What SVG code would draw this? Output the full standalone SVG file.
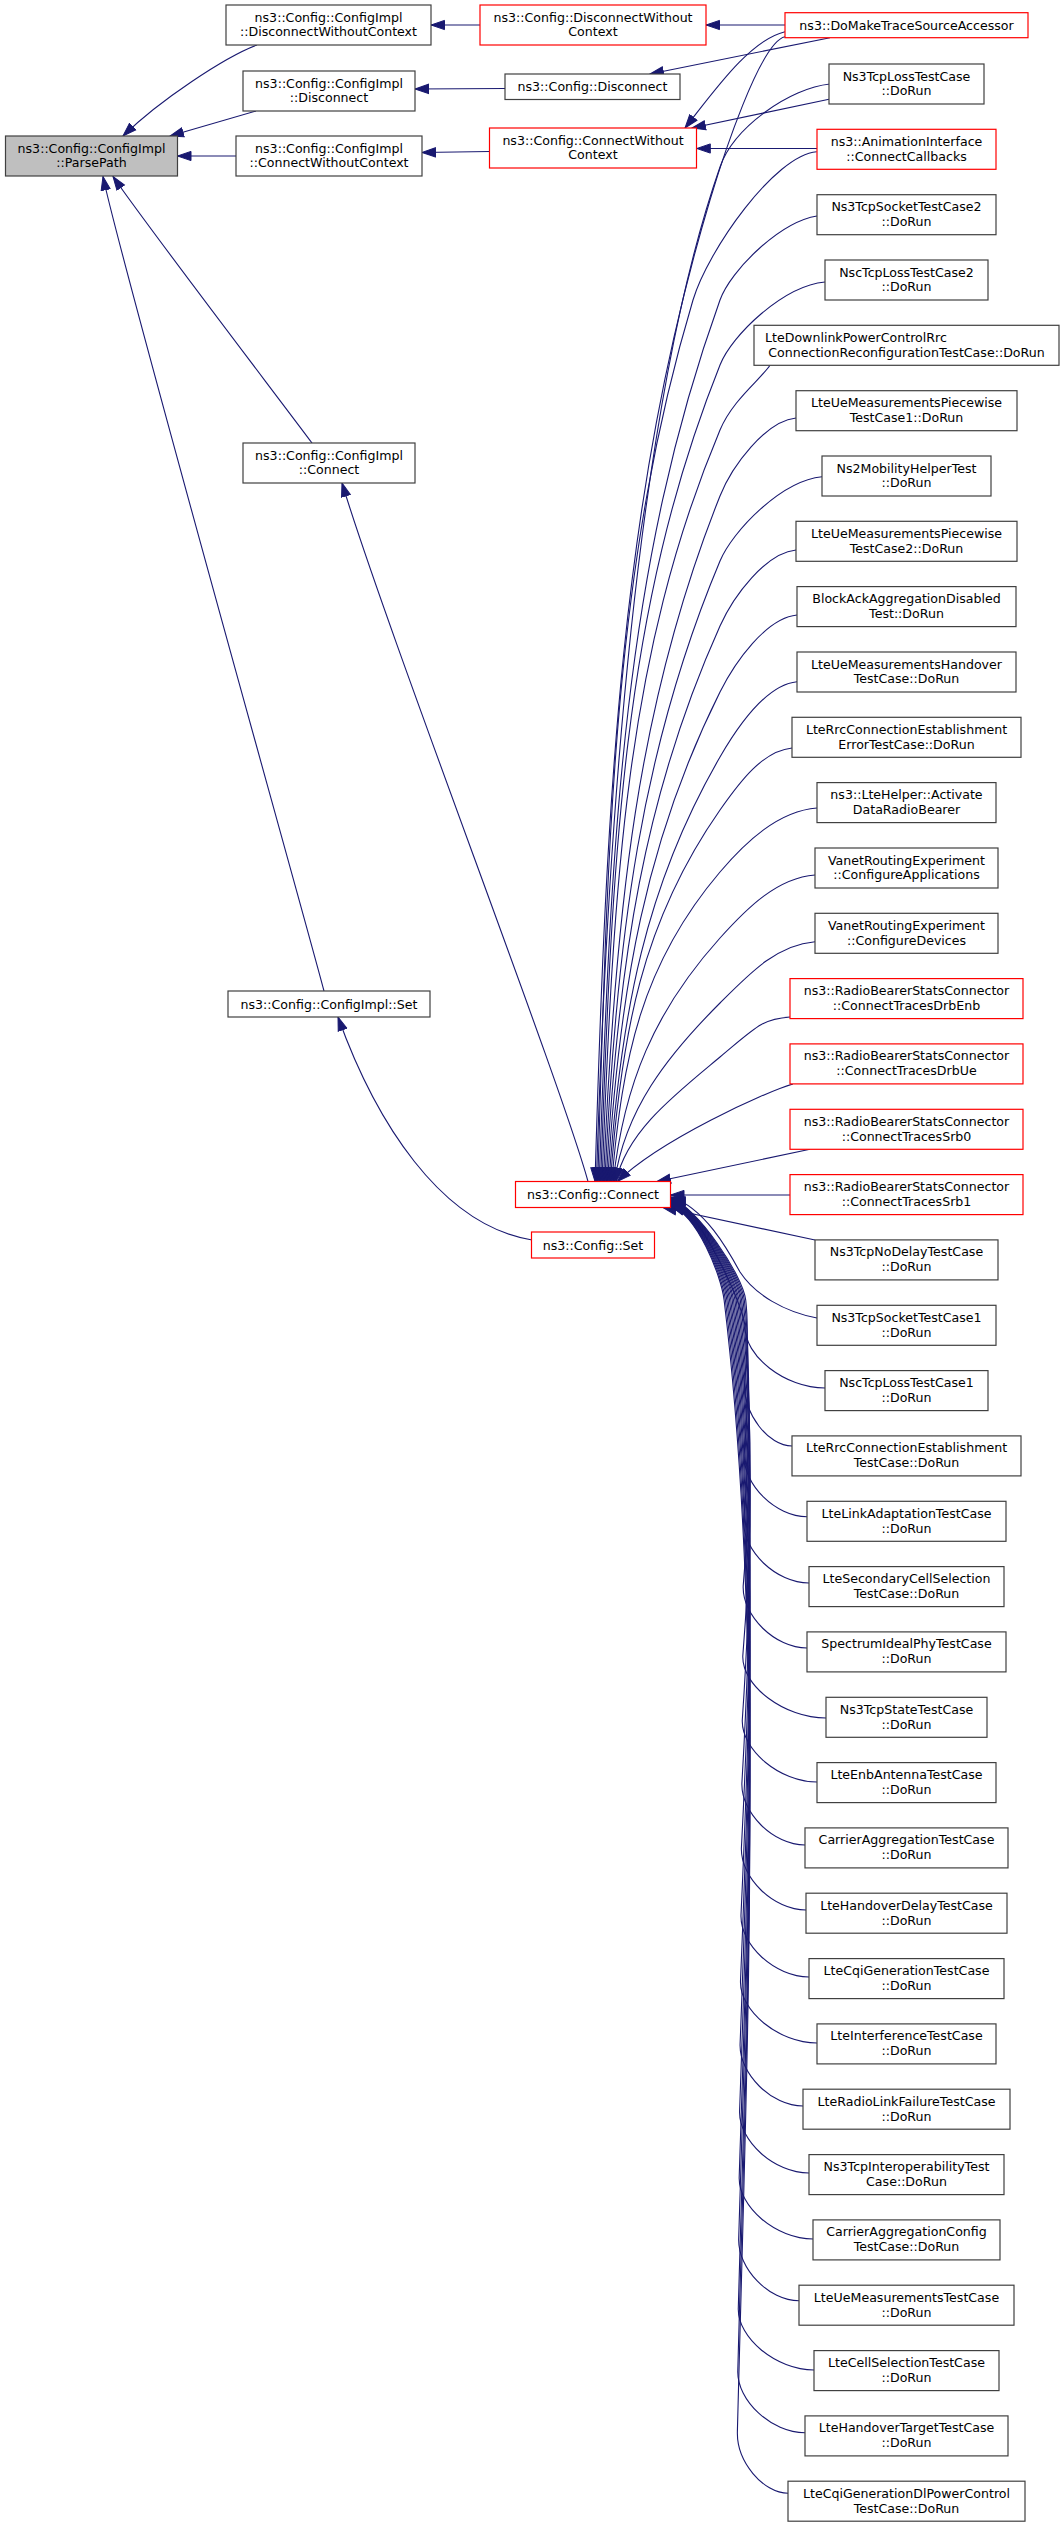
<svg xmlns="http://www.w3.org/2000/svg" width="1064" height="2527" viewBox="0 0 1064 2527">
<style>
.n rect{fill:#ffffff;stroke:#404040;stroke-width:1.2}
.n.r rect{stroke:#ff0000}
.n.g rect{fill:#bfbfbf}
text{font-family:"DejaVu Sans","Liberation Sans",sans-serif;font-size:12.6px;fill:#000000;text-anchor:middle}
#edges path{fill:none;stroke:#191970;stroke-width:1.1;marker-end:url(#ah)}
</style>
<defs>
<marker id="ah" markerUnits="userSpaceOnUse" markerWidth="16" markerHeight="12" viewBox="-14 -6 16 12" refX="0" refY="0" orient="auto">
<path d="M-13.5,-4.6 L0,0 L-13.5,4.6 Z" fill="#191970" stroke="#191970" stroke-width="1"/>
</marker>
</defs>
<rect x="0" y="0" width="1064" height="2527" fill="#ffffff"/>
<g id="edges">
<path d="M257,45 C225,57 160,100 123,136"/>
<path d="M256,111 L170,136"/>
<path d="M236,156 L177.5,156"/>
<path d="M312,443 C280,400 150,230 113,176.5"/>
<path d="M324,991 C300,900 120,260 103,176.5"/>
<path d="M480,25 L431,25"/>
<path d="M505,88.5 L415,89"/>
<path d="M489.5,151.5 L422,152.5"/>
<path d="M588,1181.5 C560,1080 390,640 342,483"/>
<path d="M532,1240 C440,1225 375,1120 338,1017"/>
<path d="M785,25 L706,25"/>
<path d="M830,37.7 L650,74"/>
<path d="M785,31.7 C750,40 715,90 685,128"/>
<path d="M829,99.3 L692,128"/>
<path d="M817,148.5 L696.8,148.5"/>
<path d="M785,36.7 C760,42 722,160 710,200 C621.7,494.5 606.5,788.9 595,1181.5"/>
<path d="M830,84 C790,88 734,127 720,167 C642,390 608.9,775.7 596.4,1181.5"/>
<path d="M816.7,151.7 C775,155 708,250 693,300 C613.7,564.5 608,828.9 597.8,1181.5"/>
<path d="M817,216 C780,222 730.8,270 720,300 C624.8,564.5 611.3,828.9 599.2,1181.5"/>
<path d="M825,282 C783,286 732,335 720,365 C622,610 612.5,854.9 600.6,1181.5"/>
<path d="M770,365.3 C760,380 732.6,400 720,430 C625.3,655.5 613.8,880.9 602,1181.5"/>
<path d="M796,418 C765.6,421 732,466 720,496 C637.7,701.7 615.2,907.3 603.4,1181.5"/>
<path d="M822,476.7 C781.2,480.7 732.6,531 720,561 C641.8,747.2 616.5,933.3 604.8,1181.5"/>
<path d="M796,550 C765.6,553 733.5,596 720,626 C645,792.7 617.9,959.3 606.2,1181.5"/>
<path d="M797,615 C766.2,618 735,662 720,692 C646.6,838.9 619.2,985.7 607.6,1181.5"/>
<path d="M797,681.7 C766.2,684.7 737.4,727 720,757 C646.1,884.4 620.6,1011.7 609,1181.5"/>
<path d="M792,748 C763.2,751 741,780 720,810 C642,921.5 621.3,1032.9 610.4,1181.5"/>
<path d="M817,808 C778.2,811 745.5,842 720,872 C641,964.9 622.6,1057.7 611.8,1181.5"/>
<path d="M815,875 C777,878 747,908 720,938 C654.3,1011 623.9,1084.1 613.2,1181.5"/>
<path d="M815,941.7 C777,944.7 750,973 720,1003 C666.4,1056.6 625,1110.1 614.6,1181.5"/>
<path d="M790,1017 C762,1019 756,1027 720,1057 C675.1,1094.4 626.3,1131.7 616,1181.5"/>
<path d="M793,1084 C765,1092 660,1140 617.4,1181.5"/>
<path d="M810,1149.3 L657,1181.5"/>
<path d="M790,1195 L670.5,1195"/>
<path d="M815,1240 L663,1207.5"/>
<path d="M817,1318 C785,1312 755,1295 740,1272 C728,1250 705,1208 671,1197"/>
<path d="M825,1388 C785,1388 744,1356 745,1326 C742,1301 697,1206.5 671,1197.5"/>
<path d="M792,1446 C768.3,1446 743.6,1414 744.6,1384 C747.1,1354.6 748.7,1325.2 745.7,1300 C742.7,1275 697,1207 671,1198"/>
<path d="M807,1516.7 C775.5,1516.7 743.1,1484.7 744.1,1454.7 C748.7,1400.6 749.9,1346.4 744.3,1300 C741.3,1275 697,1207.5 671,1198.5"/>
<path d="M809,1583 C776.3,1583 742.7,1551 743.7,1521 C750.3,1443.6 751,1366.3 743,1300 C740,1275 697,1208 671,1199"/>
<path d="M807,1648 C775.1,1648 742.2,1616 743.2,1586 C751.8,1485.9 751.9,1385.8 741.6,1300 C738.6,1275 697,1208.5 671,1199.5"/>
<path d="M826,1718 C784.4,1718 741.8,1686 742.8,1656 C752.8,1531.4 753.1,1406.8 740.3,1300 C737.3,1275 697,1209 671,1200"/>
<path d="M817,1782 C779.7,1782 741.3,1750 742.3,1720 C752.3,1573 754,1426 738.9,1300 C735.9,1275 697,1209.5 671,1200.5"/>
<path d="M805,1845 C773.5,1845 740.9,1813 741.9,1783 C751.9,1614 755,1444.9 737.6,1300 C734.6,1275 697,1210 671,1201"/>
<path d="M806,1910 C773.7,1910 740.4,1878 741.4,1848 C751.4,1656.2 755.9,1464.4 736.2,1300 C733.2,1275 697,1210.5 671,1201.5"/>
<path d="M809,1977 C775,1977 740,1945 741,1915 C751,1699.7 757,1484.5 734.9,1300 C731.9,1275 697,1211 671,1202"/>
<path d="M817,2043 C778.8,2043 739.5,2011 740.5,1981 C750.5,1742.6 758,1504.3 733.5,1300 C730.5,1275 697,1211.5 671,1202.5"/>
<path d="M803,2106 C771.6,2106 739.1,2074 740.1,2044 C750.1,1783.6 759,1523.2 732.2,1300 C729.2,1275 697,1212 671,1203"/>
<path d="M809,2173 C774.3,2173 738.6,2141 739.6,2111 C749.6,1827.1 760,1543.3 730.8,1300 C727.8,1275 697,1212.5 671,1203.5"/>
<path d="M813,2239 C776.1,2239 738.2,2207 739.2,2177 C749.2,1870 761.1,1563.1 729.5,1300 C726.5,1275 697,1213 671,1204"/>
<path d="M799,2300.7 C768.9,2300.7 737.7,2268.7 738.7,2238.7 C748.7,1910.2 761.9,1581.6 728.1,1300 C725.1,1275 697,1213.5 671,1204.5"/>
<path d="M814,2370 C776.2,2370 737.3,2338 738.3,2308 C748.3,1955.2 763.1,1602.4 726.8,1300 C723.8,1275 697,1214 671,1205"/>
<path d="M805,2432.7 C771.4,2432.7 736.8,2400.7 737.8,2370.7 C747.8,1996 763.9,1621.2 725.4,1300 C722.4,1275 697,1214.5 671,1205.5"/>
<path d="M788.3,2493.3 C762.9,2493.3 736.4,2461.3 737.4,2431.3 C747.4,2035.3 764.8,1639.4 724.1,1300 C721.1,1275 697,1215 671,1206"/>
</g>
<g id="parsepath" class="n g"><rect x="5.5" y="136" width="172" height="40"/><text x="91.5" y="152.5">ns3::Config::ConfigImpl</text><text x="91.5" y="167.3">::ParsePath</text></g>
<g id="ci_dwc" class="n"><rect x="226" y="5" width="205" height="40"/><text x="328.5" y="21.5">ns3::Config::ConfigImpl</text><text x="328.5" y="36.3">::DisconnectWithoutContext</text></g>
<g id="ci_disc" class="n"><rect x="243" y="71" width="172" height="40"/><text x="329" y="87.5">ns3::Config::ConfigImpl</text><text x="329" y="102.3">::Disconnect</text></g>
<g id="ci_cwc" class="n"><rect x="236" y="136" width="186" height="40"/><text x="329" y="152.5">ns3::Config::ConfigImpl</text><text x="329" y="167.3">::ConnectWithoutContext</text></g>
<g id="ci_conn" class="n"><rect x="243" y="443" width="172" height="40"/><text x="329" y="459.5">ns3::Config::ConfigImpl</text><text x="329" y="474.3">::Connect</text></g>
<g id="ci_set" class="n"><rect x="228" y="991" width="202" height="26"/><text x="329" y="1008.5">ns3::Config::ConfigImpl::Set</text></g>
<g id="c_dwc" class="n r"><rect x="480" y="5" width="226" height="40"/><text x="593" y="21.5">ns3::Config::DisconnectWithout</text><text x="593" y="36.3">Context</text></g>
<g id="c_disc" class="n"><rect x="505" y="74" width="175" height="25.5"/><text x="592.5" y="91">ns3::Config::Disconnect</text></g>
<g id="c_cwc" class="n r"><rect x="489.5" y="128" width="207" height="40"/><text x="593" y="144.5">ns3::Config::ConnectWithout</text><text x="593" y="159.3">Context</text></g>
<g id="c_conn" class="n r"><rect x="515.5" y="1181.5" width="155" height="26"/><text x="593" y="1199">ns3::Config::Connect</text></g>
<g id="c_set" class="n r"><rect x="531.5" y="1232" width="123" height="26"/><text x="593" y="1249.5">ns3::Config::Set</text></g>
<g id="domake" class="n r"><rect x="785" y="12.7" width="243" height="25"/><text x="906.5" y="29.7">ns3::DoMakeTraceSourceAccessor</text></g>
<g id="k1" class="n"><rect x="829" y="64" width="155" height="40"/><text x="906.5" y="80.5">Ns3TcpLossTestCase</text><text x="906.5" y="95.3">::DoRun</text></g>
<g id="k2" class="n r"><rect x="817" y="129.3" width="179" height="40"/><text x="906.5" y="145.8">ns3::AnimationInterface</text><text x="906.5" y="160.6">::ConnectCallbacks</text></g>
<g id="k3" class="n"><rect x="817" y="194.7" width="179" height="40"/><text x="906.5" y="211.2">Ns3TcpSocketTestCase2</text><text x="906.5" y="226">::DoRun</text></g>
<g id="k4" class="n"><rect x="825" y="260" width="163" height="40"/><text x="906.5" y="276.5">NscTcpLossTestCase2</text><text x="906.5" y="291.3">::DoRun</text></g>
<g id="k5" class="n"><rect x="754" y="325.3" width="305" height="40"/><text x="765" y="341.8" style="text-anchor:start">LteDownlinkPowerControlRrc</text><text x="906.5" y="356.6">ConnectionReconfigurationTestCase::DoRun</text></g>
<g id="k6" class="n"><rect x="796" y="390.7" width="221" height="40"/><text x="906.5" y="407.2">LteUeMeasurementsPiecewise</text><text x="906.5" y="422">TestCase1::DoRun</text></g>
<g id="k7" class="n"><rect x="822" y="456" width="169" height="40"/><text x="906.5" y="472.5">Ns2MobilityHelperTest</text><text x="906.5" y="487.3">::DoRun</text></g>
<g id="k8" class="n"><rect x="796" y="521.3" width="221" height="40"/><text x="906.5" y="537.8">LteUeMeasurementsPiecewise</text><text x="906.5" y="552.6">TestCase2::DoRun</text></g>
<g id="k9" class="n"><rect x="797" y="586.6" width="219" height="40"/><text x="906.5" y="603.1">BlockAckAggregationDisabled</text><text x="906.5" y="617.9">Test::DoRun</text></g>
<g id="k10" class="n"><rect x="797" y="652" width="219" height="40"/><text x="906.5" y="668.5">LteUeMeasurementsHandover</text><text x="906.5" y="683.3">TestCase::DoRun</text></g>
<g id="k11" class="n"><rect x="792" y="717.3" width="229" height="40"/><text x="906.5" y="733.8">LteRrcConnectionEstablishment</text><text x="906.5" y="748.6">ErrorTestCase::DoRun</text></g>
<g id="k12" class="n"><rect x="817" y="782.6" width="179" height="40"/><text x="906.5" y="799.1">ns3::LteHelper::Activate</text><text x="906.5" y="813.9">DataRadioBearer</text></g>
<g id="k13" class="n"><rect x="815" y="848" width="183" height="40"/><text x="906.5" y="864.5">VanetRoutingExperiment</text><text x="906.5" y="879.3">::ConfigureApplications</text></g>
<g id="k14" class="n"><rect x="815" y="913.3" width="183" height="40"/><text x="906.5" y="929.8">VanetRoutingExperiment</text><text x="906.5" y="944.6">::ConfigureDevices</text></g>
<g id="k15" class="n r"><rect x="790" y="978.6" width="233" height="40"/><text x="906.5" y="995.1">ns3::RadioBearerStatsConnector</text><text x="906.5" y="1009.9">::ConnectTracesDrbEnb</text></g>
<g id="k16" class="n r"><rect x="790" y="1043.9" width="233" height="40"/><text x="906.5" y="1060.4">ns3::RadioBearerStatsConnector</text><text x="906.5" y="1075.2">::ConnectTracesDrbUe</text></g>
<g id="k17" class="n r"><rect x="790" y="1109.3" width="233" height="40"/><text x="906.5" y="1125.8">ns3::RadioBearerStatsConnector</text><text x="906.5" y="1140.6">::ConnectTracesSrb0</text></g>
<g id="k18" class="n r"><rect x="790" y="1174.6" width="233" height="40"/><text x="906.5" y="1191.1">ns3::RadioBearerStatsConnector</text><text x="906.5" y="1205.9">::ConnectTracesSrb1</text></g>
<g id="k19" class="n"><rect x="815" y="1239.9" width="183" height="40"/><text x="906.5" y="1256.4">Ns3TcpNoDelayTestCase</text><text x="906.5" y="1271.2">::DoRun</text></g>
<g id="k20" class="n"><rect x="817" y="1305.3" width="179" height="40"/><text x="906.5" y="1321.8">Ns3TcpSocketTestCase1</text><text x="906.5" y="1336.6">::DoRun</text></g>
<g id="k21" class="n"><rect x="825" y="1370.6" width="163" height="40"/><text x="906.5" y="1387.1">NscTcpLossTestCase1</text><text x="906.5" y="1401.9">::DoRun</text></g>
<g id="k22" class="n"><rect x="792" y="1435.9" width="229" height="40"/><text x="906.5" y="1452.4">LteRrcConnectionEstablishment</text><text x="906.5" y="1467.2">TestCase::DoRun</text></g>
<g id="k23" class="n"><rect x="807" y="1501.3" width="199" height="40"/><text x="906.5" y="1517.8">LteLinkAdaptationTestCase</text><text x="906.5" y="1532.6">::DoRun</text></g>
<g id="k24" class="n"><rect x="809" y="1566.6" width="195" height="40"/><text x="906.5" y="1583.1">LteSecondaryCellSelection</text><text x="906.5" y="1597.9">TestCase::DoRun</text></g>
<g id="k25" class="n"><rect x="807" y="1631.9" width="199" height="40"/><text x="906.5" y="1648.4">SpectrumIdealPhyTestCase</text><text x="906.5" y="1663.2">::DoRun</text></g>
<g id="k26" class="n"><rect x="826" y="1697.3" width="161" height="40"/><text x="906.5" y="1713.8">Ns3TcpStateTestCase</text><text x="906.5" y="1728.6">::DoRun</text></g>
<g id="k27" class="n"><rect x="817" y="1762.6" width="179" height="40"/><text x="906.5" y="1779.1">LteEnbAntennaTestCase</text><text x="906.5" y="1793.9">::DoRun</text></g>
<g id="k28" class="n"><rect x="805" y="1827.9" width="203" height="40"/><text x="906.5" y="1844.4">CarrierAggregationTestCase</text><text x="906.5" y="1859.2">::DoRun</text></g>
<g id="k29" class="n"><rect x="806" y="1893.2" width="201" height="40"/><text x="906.5" y="1909.7">LteHandoverDelayTestCase</text><text x="906.5" y="1924.5">::DoRun</text></g>
<g id="k30" class="n"><rect x="809" y="1958.6" width="195" height="40"/><text x="906.5" y="1975.1">LteCqiGenerationTestCase</text><text x="906.5" y="1989.9">::DoRun</text></g>
<g id="k31" class="n"><rect x="817" y="2023.9" width="179" height="40"/><text x="906.5" y="2040.4">LteInterferenceTestCase</text><text x="906.5" y="2055.2">::DoRun</text></g>
<g id="k32" class="n"><rect x="803" y="2089.2" width="207" height="40"/><text x="906.5" y="2105.7">LteRadioLinkFailureTestCase</text><text x="906.5" y="2120.5">::DoRun</text></g>
<g id="k33" class="n"><rect x="809" y="2154.6" width="195" height="40"/><text x="906.5" y="2171.1">Ns3TcpInteroperabilityTest</text><text x="906.5" y="2185.9">Case::DoRun</text></g>
<g id="k34" class="n"><rect x="813" y="2219.9" width="187" height="40"/><text x="906.5" y="2236.4">CarrierAggregationConfig</text><text x="906.5" y="2251.2">TestCase::DoRun</text></g>
<g id="k35" class="n"><rect x="799" y="2285.2" width="215" height="40"/><text x="906.5" y="2301.7">LteUeMeasurementsTestCase</text><text x="906.5" y="2316.5">::DoRun</text></g>
<g id="k36" class="n"><rect x="814" y="2350.6" width="185" height="40"/><text x="906.5" y="2367.1">LteCellSelectionTestCase</text><text x="906.5" y="2381.9">::DoRun</text></g>
<g id="k37" class="n"><rect x="805" y="2415.9" width="203" height="40"/><text x="906.5" y="2432.4">LteHandoverTargetTestCase</text><text x="906.5" y="2447.2">::DoRun</text></g>
<g id="k38" class="n"><rect x="788" y="2481.2" width="237" height="40"/><text x="906.5" y="2497.7">LteCqiGenerationDlPowerControl</text><text x="906.5" y="2512.5">TestCase::DoRun</text></g>
</svg>
